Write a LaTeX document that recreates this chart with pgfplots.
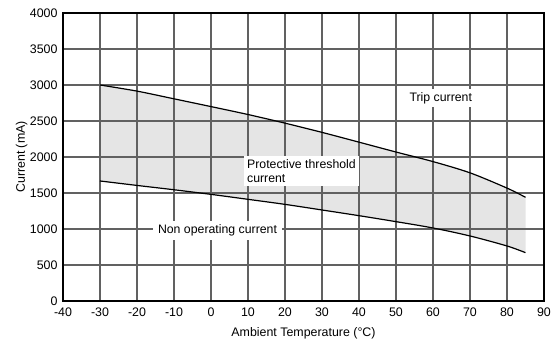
\documentclass[border=0pt]{standalone}
\usepackage{fontspec}
\setmainfont{Liberation Sans}
\usepackage{pgfplots}
\usepgfplotslibrary{fillbetween}
\pgfplotsset{compat=1.18}
\begin{document}
\begin{tikzpicture}
\begin{axis}[
  set layers,
  scale only axis, width=481bp, height=288bp,
  xmin=-40, xmax=90, ymin=0, ymax=4000,
  xtick={-40,-30,...,90}, ytick={0,500,...,4000},
  grid=major,
  major grid style={draw=black!62, line width=1.2bp},
  axis line style={black, line width=1.4bp},
  major tick length=0pt,
  /pgf/number format/assume math mode=true,
  /pgf/number format/1000 sep={},
  tick label style={font=\fontsize{12.4bp}{14bp}\selectfont},
  xticklabel shift=3bp,
  yticklabel shift=2bp,
  label style={font=\fontsize{12.4bp}{14bp}\selectfont},
  xlabel={Ambient Temperature (°C)},
  ylabel={Current (mA)},
  xlabel style={at={(axis description cs:0.5,-0.111)}, anchor=center},
  ylabel style={at={(axis description cs:-0.0859,0.5)}, anchor=center, rotate=0},
]
% trip current
\addplot[name path=A, black, line width=1.2bp, smooth] coordinates {
  (-30,3000) (-20,2915) (-10,2808) (0,2700) (10,2590) (20,2470) (30,2342)
  (40,2206) (50,2069) (60,1936) (70,1780) (80,1568) (85,1440)
};
% non operating current
\addplot[name path=B, black, line width=1.2bp, smooth] coordinates {
  (-30,1667) (-20,1605) (-10,1545) (0,1481) (10,1412) (20,1342) (30,1264)
  (40,1185) (50,1102) (60,1014) (70,903) (80,764) (85,671)
};
% shaded band between the two curves
\addplot[fill=black!10, draw=none] fill between[of=A and B, on layer=axis background];
\node[fill=white, inner xsep=4bp, inner ysep=3bp, font=\fontsize{12.3bp}{14bp}\selectfont] at (axis cs:62.1,2819) {Trip current};
\node[fill=white, inner xsep=3bp, inner ysep=3bp, align=left, anchor=west, font=\fontsize{12.3bp}{14.3bp}\selectfont] at (axis cs:8.9,1806) {Protective threshold\\current};
\node[fill=white, inner xsep=5bp, inner ysep=4bp, font=\fontsize{12.3bp}{14bp}\selectfont] at (axis cs:1.76,976) {Non operating current};
\end{axis}
\pgfresetboundingbox
\path ([shift={(-63bp,-40bp)}]current axis.south west) rectangle ([shift={(10bp,13bp)}]current axis.north east);
\end{tikzpicture}
\end{document}
